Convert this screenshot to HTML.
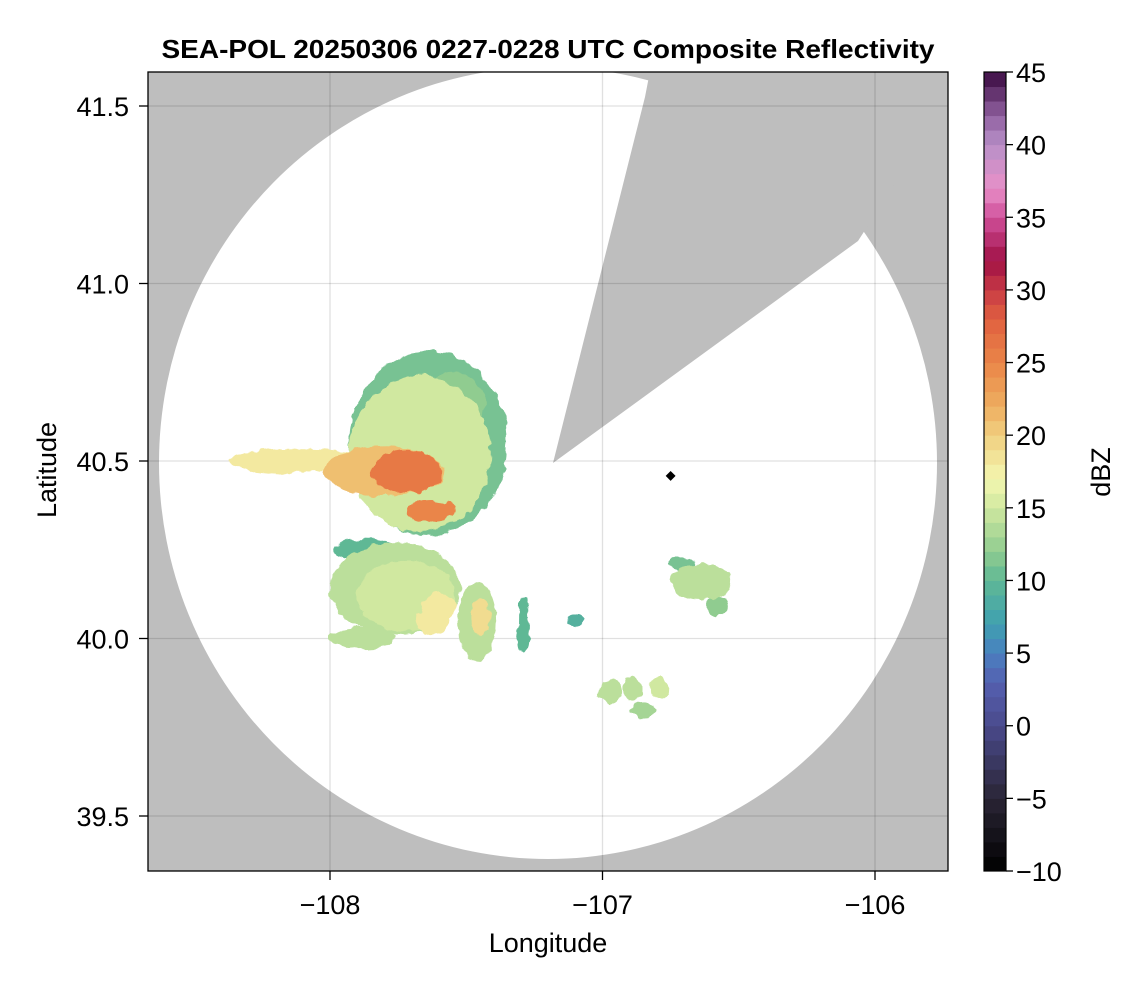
<!DOCTYPE html>
<html><head><meta charset="utf-8"><style>
body{margin:0;background:#fff;font-family:"Liberation Sans",sans-serif}
svg text{font-family:"Liberation Sans",sans-serif}
</style></head><body>
<svg id="c" width="1146" height="990" viewBox="0 0 1146 990">
<defs>
<clipPath id="pa"><rect x="148" y="72" width="800" height="799"/></clipPath>
<filter id="rough" x="-20%" y="-20%" width="140%" height="140%">
<feTurbulence type="fractalNoise" baseFrequency="0.09" numOctaves="2" seed="3"/>
<feDisplacementMap in="SourceGraphic" scale="9" xChannelSelector="R" yChannelSelector="G"/>
</filter>
</defs>
<text x="548" y="58" text-anchor="middle" font-size="26" font-weight="bold" textLength="773" lengthAdjust="spacingAndGlyphs">SEA-POL 20250306 0227-0228 UTC Composite Reflectivity</text>
<g clip-path="url(#pa)" id="plot">
<rect x="148" y="72" width="800" height="799" fill="#bebebe"/>
<g id="cov"></g>
<g id="grid"></g>
<g id="echo" filter="url(#rough)"></g>
</g>
<rect x="148" y="72" width="800" height="799" fill="none" stroke="#000" stroke-width="1.3"/>
<g id="axes"></g>
<g id="cbar"></g>
<text x="56" y="470" text-anchor="middle" font-size="27" transform="rotate(-90 56 470)">Latitude</text>
<text x="548" y="952" text-anchor="middle" font-size="27">Longitude</text>
<text x="1110" y="472" text-anchor="middle" font-size="27" transform="rotate(-90 1110 472)">dBZ</text>
</svg>
<script>
const xTicks=[-108,-107,-106];
const yTicks=[39.5,40.0,40.5,41.0,41.5];
const cbTicks=[-10,-5,0,5,10,15,20,25,30,35,40,45];
// echo blobs: lon, lat, radius lon, radius lat, dBZ
const echoLon=[-107.64,-108.11,-107.67,-107.80,-107.72,-107.63,-107.76,-107.88,-107.72,-107.87,-107.46,-107.45,-107.29,-107.10,-106.64,-106.71,-106.58,-106.97,-106.89,-106.79,-106.85,-107.62,-107.60,-107.55];
const echoLat=[40.55,40.50,40.52,40.47,40.47,40.36,40.14,40.00,40.12,40.25,40.05,40.06,40.04,40.05,40.16,40.21,40.09,39.85,39.86,39.86,39.80,40.05,40.09,40.66];
const echoRLon=[0.29,0.26,0.26,0.22,0.13,0.09,0.24,0.12,0.18,0.12,0.07,0.035,0.02,0.03,0.11,0.05,0.04,0.04,0.035,0.035,0.05,0.06,0.06,0.12];
const echoRLat=[0.26,0.035,0.22,0.07,0.06,0.03,0.13,0.03,0.10,0.03,0.11,0.05,0.08,0.015,0.05,0.02,0.03,0.035,0.035,0.03,0.02,0.04,0.04,0.09];
const echoDBZ=[11,18,15,21,26,25,14,14,15,10,14,19,10,9,14,11,12,14,14,15,13,18,18,12];
const cmD=[-10,-5,0,3,5,7,10,12,15,17,20,22,25,28,30,32,35,37,40,42,45];
const cmC=["#000000","#2a2535","#4a4a8c","#5560b0","#4a80c0","#3fa0b0","#5fb895","#90cc90","#d0e8a0","#f4f6b0","#f0cf80","#eeae60","#ea8548","#e0603f","#c83b45","#a01045","#d0509a","#e890c8","#b890c8","#9060a0","#3a0a40"];
const X=v=>330+(v+108)*272.5;
const Y=v=>461-(v-40.5)*355;
const CB=v=>871-(v+10)*799/55;
const NS="http://www.w3.org/2000/svg";
function mk(t,a,p){const e=document.createElementNS(NS,t);for(const k in a)e.setAttribute(k,a[k]);p.appendChild(e);return e;}
function hex(c){return [1,3,5].map(i=>parseInt(c.substr(i,2),16));}
function cmap(v){for(let i=0;i<cmD.length-1;i++){if(v<=cmD[i+1]){const t=(v-cmD[i])/(cmD[i+1]-cmD[i]);const a=hex(cmC[i]),b=hex(cmC[i+1]);return "rgb("+a.map((x,j)=>Math.round(x+(b[j]-x)*t)).join(",")+")";}}return cmC[cmC.length-1];}
const cov=document.getElementById('cov');
const circ=mk('ellipse',{cx:548,cy:463,rx:389,ry:396,fill:'#fff'},cov);


const wedge=mk('polygon',{points:'553,463 645,97 660,20 1000,20 858,241',fill:'#bebebe'},cov);


const g=document.getElementById('grid');
xTicks.forEach(t=>{const l=mk('line',{x1:X(t),x2:X(t),y1:72,y2:871,stroke:'#000','stroke-opacity':0.12,'stroke-width':1.3},g);});
yTicks.forEach(t=>{const l=mk('line',{x1:148,x2:948,y1:Y(t),y2:Y(t),stroke:'#000','stroke-opacity':0.12,'stroke-width':1.3},g);});
const ec=document.getElementById('echo');
const order=echoLon.map((_,i)=>i).sort((a,b)=>echoDBZ[a]-echoDBZ[b]);
order.forEach(i=>{
 const e=mk('ellipse',{cx:X(echoLon[i]),cy:Y(echoLat[i]),rx:echoRLon[i]*272.5,ry:echoRLat[i]*355,fill:cmap(echoDBZ[i])},ec);
 
 
});
const mkr=mk('rect',{x:X(-106.75)-3.5,y:Y(40.458)-3.5,width:7,height:7,fill:'#000',transform:`rotate(45 ${X(-106.75)} ${Y(40.458)})`},document.getElementById('plot'));


const ax=document.getElementById('axes');
xTicks.forEach(t=>{mk('line',{x1:X(t),x2:X(t),y1:871,y2:880,stroke:'#000','stroke-width':1.3},ax);const tx=mk('text',{x:X(t),y:914,'text-anchor':'middle','font-size':27},ax);tx.textContent='\u2212'+Math.abs(t);});
yTicks.forEach(t=>{mk('line',{x1:139,x2:148,y1:Y(t),y2:Y(t),stroke:'#000','stroke-width':1.3},ax);const tx=mk('text',{x:129,y:Y(t)+10,'text-anchor':'end','font-size':27},ax);tx.textContent=t.toFixed(1);});
const cb=document.getElementById('cbar');
for(let v=-10;v<45;v++){const r=mk('rect',{x:984,y:CB(v+1),width:22,height:CB(v)-CB(v+1)+0.5,fill:cmap(v+0.5)},cb);}
mk('rect',{x:984,y:72,width:22,height:799,fill:'none',stroke:'#000','stroke-width':1.2},cb);
cbTicks.forEach(t=>{mk('line',{x1:1006,x2:1013,y1:CB(t),y2:CB(t),stroke:'#000','stroke-width':1.3},cb);const tx=mk('text',{x:1016,y:CB(t)+10,'font-size':27},cb);tx.textContent=(t<0?'\u2212'+Math.abs(t):t);});
</script>
</body></html>
